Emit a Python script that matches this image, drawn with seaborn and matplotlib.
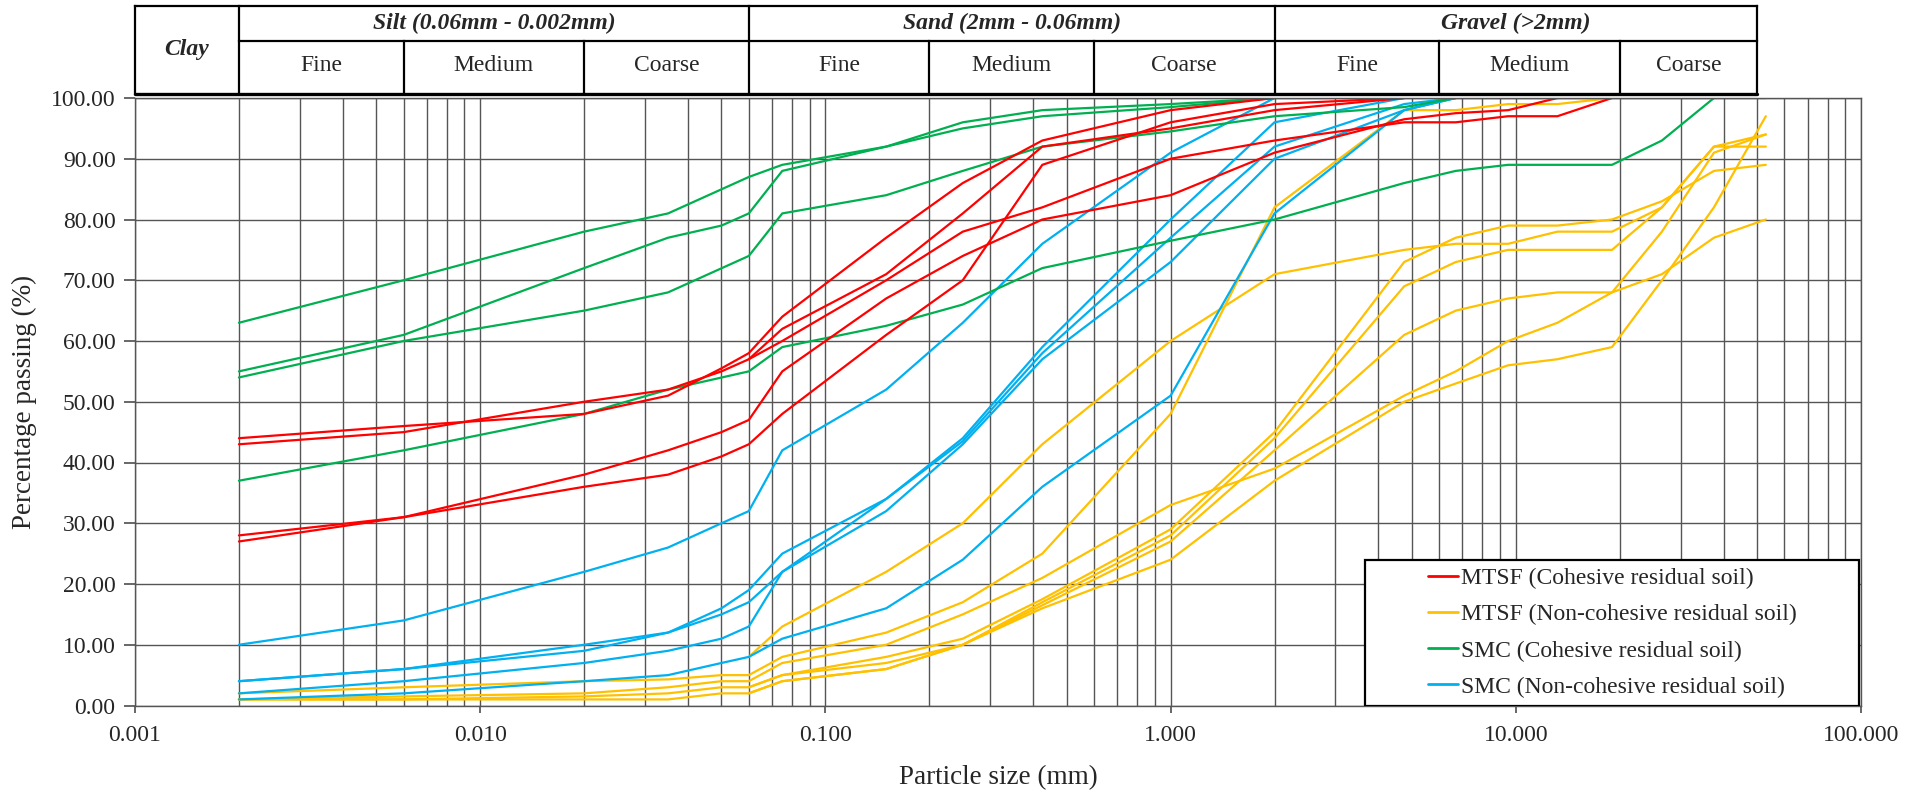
import numpy as np
import pandas as pd
import seaborn as sns
import matplotlib.pyplot as plt
from matplotlib.lines import Line2D
from matplotlib.patches import Rectangle
from matplotlib.ticker import FixedLocator, FuncFormatter, LogLocator, NullFormatter

# sieve / hydrometer sizes (mm)
sizes = [0.002, 0.006, 0.02, 0.035, 0.05, 0.06, 0.075, 0.15, 0.25, 0.425,
         1.0, 2.0, 4.75, 6.7, 9.5, 13.2, 19.0, 26.5, 37.5, 53.0]
N = None

# MTSF (Cohesive residual soil)
mtsf_coh = [
    [44, 46, 48, 51, 55.5, 58, 64, 77, 86, 93, 98, 100, 100, 100, 100, 100, 100, 100, 100, 100],
    [43, 45, 50, 52, 55, 57, 62, 71, 81, 92, 95, 98, 100],
    [N, N, N, N, N, 57, 60, 70, 78, 82, 90, 93, 96, 96, 97, 97, 100],
    [28, 31, 38, 42, 45, 47, 55, 67, 74, 80, 84, 91, 96.5, 97.5, 98, 100],
    [27, 31, 36, 38, 41, 43, 48, 61, 70, 89, 96, 99, 100],
]
# MTSF (Non-cohesive residual soil)
mtsf_noncoh = [
    [N, N, N, N, N, 8, 13, 22, 30, 43, 60, 71, 75, 76, 76, 78, 78, 82, 92, 92],
    [2, 3, 4, 4.3, 5, 5, 8, 12, 17, 25, 48, 82, 98, 98, 99, 99, 100],
    [1, 1, 1.5, 2, 3, 3, 5, 8, 11, 17.5, 29, 45, 73, 77, 79, 79, 80, 83, 88, 89],
    [N, N, N, N, N, 3, 5, 7, 10, 17, 28, 44, 69, 73, 75, 75, 75, 82, 92, 94],
    [1, 1, 1, 1, 2, 2, 4, 6, 10, 16.5, 27, 42, 61, 65, 67, 68, 68, 71, 77, 80],
    [1, 1.5, 2, 3, 4, 4, 7, 10, 15, 21, 33, 39, 51, 55, 60, 63, 68, 78, 91, 94],
    [N, N, N, N, N, 2, 4, 6, 10, 16, 24, 37, 50, 53, 56, 57, 59, 70, 82, 97],
]
# SMC (Cohesive residual soil)
smc_coh = [
    [63, 70, 78, 81, N, 87, 89, 92, 96, 98, 99, 100],
    [55, 61, 72, 77, 79, 81, 88, 92, 95, 97, 98.5, 100],
    [54, 60, 65, 68, N, 74, 81, 84, 88, 92, 94.5, 97, 98.5, 100],
    [37, 42, 48, 52, N, 55, 59, 62.5, 66, 72, 76.5, 80, 86, 88, 89, 89, 89, 93, 100],
]
# SMC (Non-cohesive residual soil)
smc_noncoh = [
    [10, 14, 22, 26, 30, 32, 42, 52, 63, 76, 91, 100],
    [4, 6, 10, 12, 16, 19, 25, 34, 44, 59, 80, 96, 100],
    [4, 6, 9, 12, 15, 17, 22, 34, 43.5, 58, 77, 92, 99, 100],
    [2, 4, 7, 9, 11, 13, 22, 32, 43, 57, 73, 90, 98, 100],
    [1, 2, 4, 5, 7, 8, 11, 16, 24, 36, 51, 81, 98, 100],
]

labels = ['MTSF (Cohesive residual soil)', 'MTSF (Non-cohesive residual soil)',
          'SMC (Cohesive residual soil)', 'SMC (Non-cohesive residual soil)']
colors = ['#FF0000', '#FFC000', '#00B050', '#00B0F0']

# build long table
rows = []
for label, curves in zip(labels, [mtsf_coh, mtsf_noncoh, smc_coh, smc_noncoh]):
    for k, vals in enumerate(curves):
        for s, v in zip(sizes, vals):
            if v is not None:
                rows.append({'size': s, 'passing': v, 'group': label, 'sample': k})
df = pd.DataFrame(rows)

sns.set_theme(style='white')
plt.rcParams['font.family'] = ['Liberation Serif', 'DejaVu Serif']
FS = 17
grid_c = '#555555'

fig = plt.figure(figsize=(19.28, 7.92), dpi=100)
ax = fig.add_axes([135 / 1928, 1 - 705.5 / 792, 1726 / 1928, 607.5 / 792])

draw_order = [labels[1], labels[3], labels[2], labels[0]]
sns.lineplot(data=df, x='size', y='passing', hue='group', units='sample',
             estimator=None, sort=False, hue_order=draw_order,
             palette=dict(zip(labels, colors)), linewidth=1.6, legend=False, ax=ax)

ax.set_xscale('log')
ax.set_xlim(0.001, 100)
ax.set_ylim(0, 100)
ax.xaxis.set_major_locator(LogLocator(base=10, numticks=10))
ax.xaxis.set_minor_locator(LogLocator(base=10, subs=np.arange(2, 10), numticks=100))
ax.xaxis.set_minor_formatter(NullFormatter())
ax.xaxis.set_major_formatter(FuncFormatter(lambda v, p: f'{v:.3f}'))
ax.yaxis.set_major_locator(FixedLocator(np.arange(0, 101, 10)))
ax.yaxis.set_major_formatter(FuncFormatter(lambda v, p: f'{v:.2f}'))
ax.grid(True, which='both', axis='x', color=grid_c, lw=1.0)
ax.grid(True, which='major', axis='y', color=grid_c, lw=1.0)
ax.set_axisbelow(True)
for sp in ax.spines.values():
    sp.set_color(grid_c)
    sp.set_linewidth(1.0)
ax.tick_params(axis='x', which='major', length=5, color=grid_c, labelsize=FS, pad=9, direction='out', bottom=True)
ax.tick_params(axis='x', which='minor', length=0)
ax.tick_params(axis='y', length=8, color=grid_c, labelsize=FS, pad=6, direction='out', left=True)
ax.set_xlabel('Particle size (mm)', fontsize=19.5, labelpad=14)
ax.set_ylabel('Percentage passing (%)', fontsize=19.5, labelpad=10)

# legend box
box = Rectangle((0.7126, 0.0), 0.2862, 0.2395, transform=ax.transAxes,
                facecolor='white', edgecolor='black', lw=1.6, zorder=5)
ax.add_patch(box)
handles = [Line2D([], [], color=c, lw=2) for c in colors]
leg = ax.legend(handles, labels, loc='center', bbox_to_anchor=(0.8557, 0.1198),
                frameon=False, fontsize=FS, handlelength=1.3, handletextpad=0.1,
                labelspacing=0.62)
leg.set_zorder(6)

# header table of soil classes
hx = fig.add_axes([135 / 1928, 1 - 94 / 792, 1726 / 1928, 88 / 792])
hx.set_xscale('log')
hx.set_xlim(0.001, 100)
hx.set_ylim(0, 88)
hx.axis('off')
mid = 53
kw = dict(color='black', lw=1.6, clip_on=False, solid_capstyle='projecting')
hx.plot([0.001, 50], [88, 88], **kw)
hx.plot([0.001, 50], [0, 0], color='black', lw=2.4, clip_on=False)
hx.plot([0.002, 50], [mid, mid], **kw)
for xv in [0.001, 0.002, 0.06, 2, 50]:
    hx.plot([xv, xv], [0, 88], **kw)
for xv in [0.006, 0.02, 0.2, 0.6, 6, 20]:
    hx.plot([xv, xv], [0, mid], **kw)

tops = [('Silt (0.06mm - 0.002mm)', 0.002, 0.06), ('Sand (2mm - 0.06mm)', 0.06, 2),
        ('Gravel (>2mm)', 2, 50)]
for t, a, b in tops:
    hx.text(np.sqrt(a * b), (mid + 88) / 2, t, ha='center', va='center', fontsize=FS,
            fontweight='bold', fontstyle='italic')
hx.text(np.sqrt(0.001 * 0.002), 44, 'Clay', ha='center', va='center', fontsize=FS,
        fontweight='bold', fontstyle='italic')
bounds = [0.002, 0.006, 0.02, 0.06, 0.2, 0.6, 2, 6, 20, 50]
subs = ['Fine', 'Medium', 'Coarse'] * 3
for t, a, b in zip(subs, bounds[:-1], bounds[1:]):
    hx.text(np.sqrt(a * b), mid / 2 + 2, t, ha='center', va='center', fontsize=FS)

fig.savefig('out.png', dpi=100, facecolor='white')
